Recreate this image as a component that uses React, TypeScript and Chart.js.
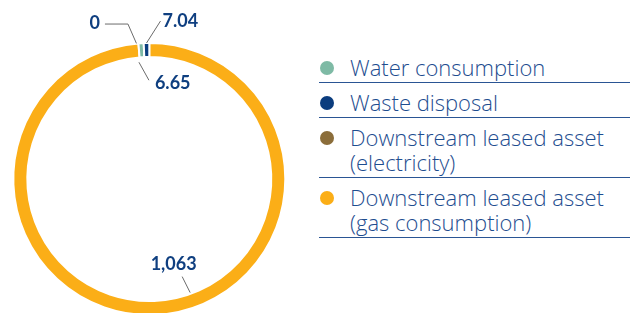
import React, { useEffect, useRef } from "react";
import { Chart, registerables } from "chart.js";

Chart.register(...registerables);

// Chart (drawing) order: clockwise from 12 o'clock
const categories = [
  "Downstream leased asset (gas consumption)",
  "Downstream leased asset (electricity)",
  "Water consumption",
  "Waste disposal",
];
const values = [1063, 0, 6.65, 7.04];
const valueLabels = ["1,063", "0", "6.65", "7.04"];
const colors = ["#FBAE17", "#8B6D3A", "#7EBAA5", "#0B3D7E"];

// Legend (reverse order, split into lines)
const legendLines: string[][] = [
  ["Water consumption"],
  ["Waste disposal"],
  ["Downstream leased asset", "(electricity)"],
  ["Downstream leased asset", "(gas consumption)"],
];
const legendColors = [colors[2], colors[3], colors[1], colors[0]];

// leader-line placement relative to each arc
type LabelCfg = {
  frac: number;
  edge: "inner" | "outer";
  pts: [number, number][];
  text: [number, number];
  align: CanvasTextAlign;
};
const labelCfg: LabelCfg[] = [
  { frac: 0.45, edge: "inner", pts: [[-1, -1], [-8, -16]], text: [-8.5, -12], align: "center" },
  { frac: 0, edge: "outer", pts: [[-2, 0], [-8.5, -19.4], [-23, 0]], text: [-5, -1], align: "right" },
  { frac: 0.5, edge: "inner", pts: [[-3, 5], [10, 18]], text: [6, 3], align: "left" },
  { frac: 0.5, edge: "outer", pts: [[0, 0], [14, -22]], text: [2, 0], align: "left" },
];

const leaderPlugin = {
  id: "leaders",
  afterDatasetsDraw(chart: any) {
    const ctx = chart.ctx as CanvasRenderingContext2D;
    const meta = chart.getDatasetMeta(0);
    meta.data.forEach((arc: any, i: number) => {
      const cfg = labelCfg[i];
      const { x, y, startAngle, endAngle, innerRadius, outerRadius } = arc.getProps(
        ["x", "y", "startAngle", "endAngle", "innerRadius", "outerRadius"],
        true
      );
      const a = startAngle + cfg.frac * (endAngle - startAngle);
      const r = cfg.edge === "inner" ? innerRadius : outerRadius;
      let px = x + Math.cos(a) * r;
      let py = y + Math.sin(a) * r;
      ctx.save();
      ctx.strokeStyle = "#6b6b6b";
      ctx.lineWidth = 1;
      ctx.beginPath();
      cfg.pts.forEach(([dx, dy], k) => {
        px += dx;
        py += dy;
        if (k === 0) ctx.moveTo(px, py);
        else ctx.lineTo(px, py);
      });
      ctx.stroke();
      ctx.fillStyle = "#0F3F80";
      ctx.font = "bold 18px Lato";
      ctx.textAlign = cfg.align;
      ctx.textBaseline = "middle";
      ctx.fillText(valueLabels[i], px + cfg.text[0], py + cfg.text[1]);
      ctx.restore();
    });
  },
};

export default function App() {
  const ref = useRef<HTMLCanvasElement | null>(null);
  useEffect(() => {
    if (!ref.current) return;
    const chart = new Chart(ref.current, {
      type: "doughnut",
      data: {
        labels: categories,
        datasets: [
          {
            data: values,
            backgroundColor: colors,
            borderColor: "#ffffff",
            borderWidth: 2,
            hoverOffset: 0,
          },
        ],
      },
      options: {
        animation: false,
        responsive: false,
        maintainAspectRatio: false,
        cutout: "89.7%",
        layout: { padding: { left: 12.3, right: 13.7, top: 42, bottom: 14 } },
        plugins: { legend: { display: false }, tooltip: { enabled: false } },
        events: [],
      },
      plugins: [leaderPlugin],
    });
    return () => chart.destroy();
  }, []);

  return (
    <div
      style={{
        position: "fixed",
        left: 0,
        top: 0,
        width: 632,
        height: 313,
        background: "#fff",
        overflow: "hidden",
      }}
    >
      <canvas
        ref={ref}
        width={300}
        height={330}
        style={{ position: "absolute", left: 0, top: 0, width: 300, height: 330 }}
      />
      <div
        style={{
          position: "absolute",
          left: 319,
          top: 48,
          width: 311,
          fontFamily: "'Open Sans', sans-serif",
          fontWeight: 300,
          fontSize: 22,
          lineHeight: "25px",
          color: "#1E4D8F",
        }}
      >
        {legendLines.map((lines, i) => (
          <div
            key={i}
            style={{
              position: "relative",
              padding: "7px 0 2px 31px",
              borderBottom: "1px solid #2A5594",
            }}
          >
            <span
              style={{
                position: "absolute",
                left: 1,
                top: 12.5,
                width: 14,
                height: 14,
                borderRadius: "50%",
                background: legendColors[i],
              }}
            />
            {lines.map((t, k) => (
              <div key={k} style={{ whiteSpace: "nowrap" }}>
                {t}
              </div>
            ))}
          </div>
        ))}
      </div>
    </div>
  );
}
